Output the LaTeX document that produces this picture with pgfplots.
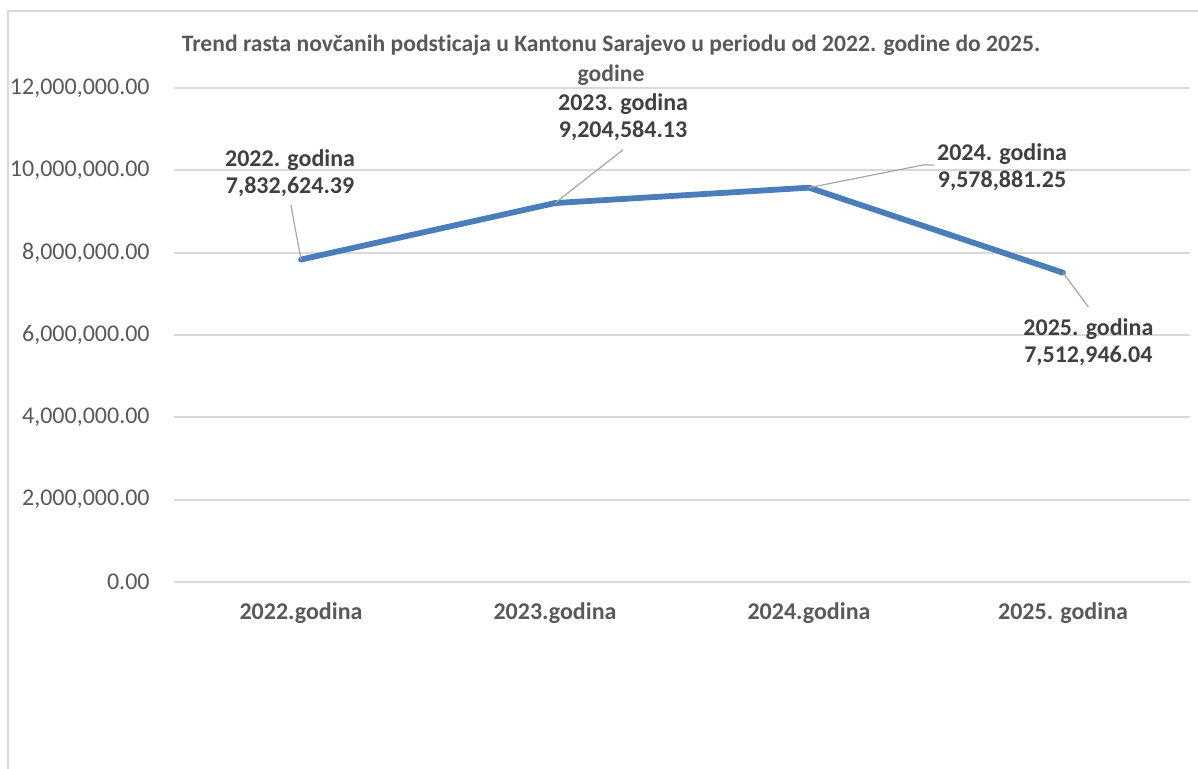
\documentclass[border=0pt]{standalone}
\usepackage{fontspec}
\setmainfont{Carlito}[Ligatures=NoCommon]
\usepackage{pgfplots}
\pgfplotsset{compat=1.18}

\definecolor{lineblue}{HTML}{4A7EBB}
\definecolor{gridgray}{HTML}{D9D9D9}
\definecolor{ticktext}{HTML}{595959}
\definecolor{labeltext}{HTML}{404040}
\definecolor{leader}{HTML}{A6A6A6}

\begin{document}
\begin{tikzpicture}
% page size: 1198x769 px at 0.5pt per px
\useasboundingbox (0,0) rectangle (599pt,-384.5pt);
\draw[gridgray, line width=0.75pt] (4pt,-384.5pt) -- (4pt,-5.5pt) -- (599pt,-5.5pt);

\node[align=center, text=ticktext, font={\fontsize{11.8}{15}\selectfont\bfseries}]
  at (305.5pt,-30pt) {Trend rasta novčanih podsticaja u Kantonu Sarajevo u periodu od 2022. godine do 2025.\\godine};

\begin{axis}[
    at={(87pt,-291pt)}, anchor=south west,
    width=508pt, height=247pt,
    scale only axis,
    clip=false,
    xmin=-0.5, xmax=3.5,
    ymin=0, ymax=12000000,
    xtick={0,1,2,3},
    xticklabels={2022.godina, 2023.godina, 2024.godina, 2025. godina},
    ytick={0,2000000,4000000,6000000,8000000,10000000,12000000},
    scaled y ticks=false,
    /pgf/number format/fixed,
    /pgf/number format/fixed zerofill,
    /pgf/number format/precision=2,
    /pgf/number format/1000 sep={,},
    /pgf/number format/assume math mode=true,
    yticklabel style={inner sep=0pt, xshift=-12pt, text=ticktext,
      font={\fontsize{12}{13}\selectfont}},
    xticklabel style={inner sep=0pt, yshift=-10pt, text=ticktext,
      font={\fontsize{12}{14}\selectfont\bfseries}},
    major tick length=0pt,
    axis line style={draw=none},
    ymajorgrids,
    major grid style={gridgray, line width=1pt},
]

\addplot[color=lineblue, line width=2.9pt, line join=round, line cap=round]
coordinates {
(0,7832624.39)
(1,9204584.13)
(2,9578881.25)
(3,7512946.04)
};

% data labels with leader lines
\draw[leader, line width=0.6pt] (axis cs:0,7832624.39) -- (axis cs:-0.04,9160000);
\draw[leader, line width=0.6pt] (axis cs:1,9204584.13) -- (axis cs:1.268,10500000);
\draw[leader, line width=0.6pt] (axis cs:2,9578881.25) -- (axis cs:2.449,10130000) -- (axis cs:2.492,10130000);
\draw[leader, line width=0.6pt] (axis cs:3,7512946.04) -- (axis cs:3.10,6680000);

\tikzset{dlabel/.style={align=center, text=labeltext, inner sep=0pt,
  font={\fontsize{12}{13.5}\selectfont\bfseries}}}
\node[dlabel] at (axis cs:-0.043,9940000) {2022. godina\\7,832,624.39};
\node[dlabel] at (axis cs:1.268,11300000) {2023. godina\\9,204,584.13};
\node[dlabel] at (axis cs:2.76,10080000) {2024. godina\\9,578,881.25};
\node[dlabel] at (axis cs:3.10,5830000) {2025. godina\\7,512,946.04};

\end{axis}
\end{tikzpicture}
\end{document}
